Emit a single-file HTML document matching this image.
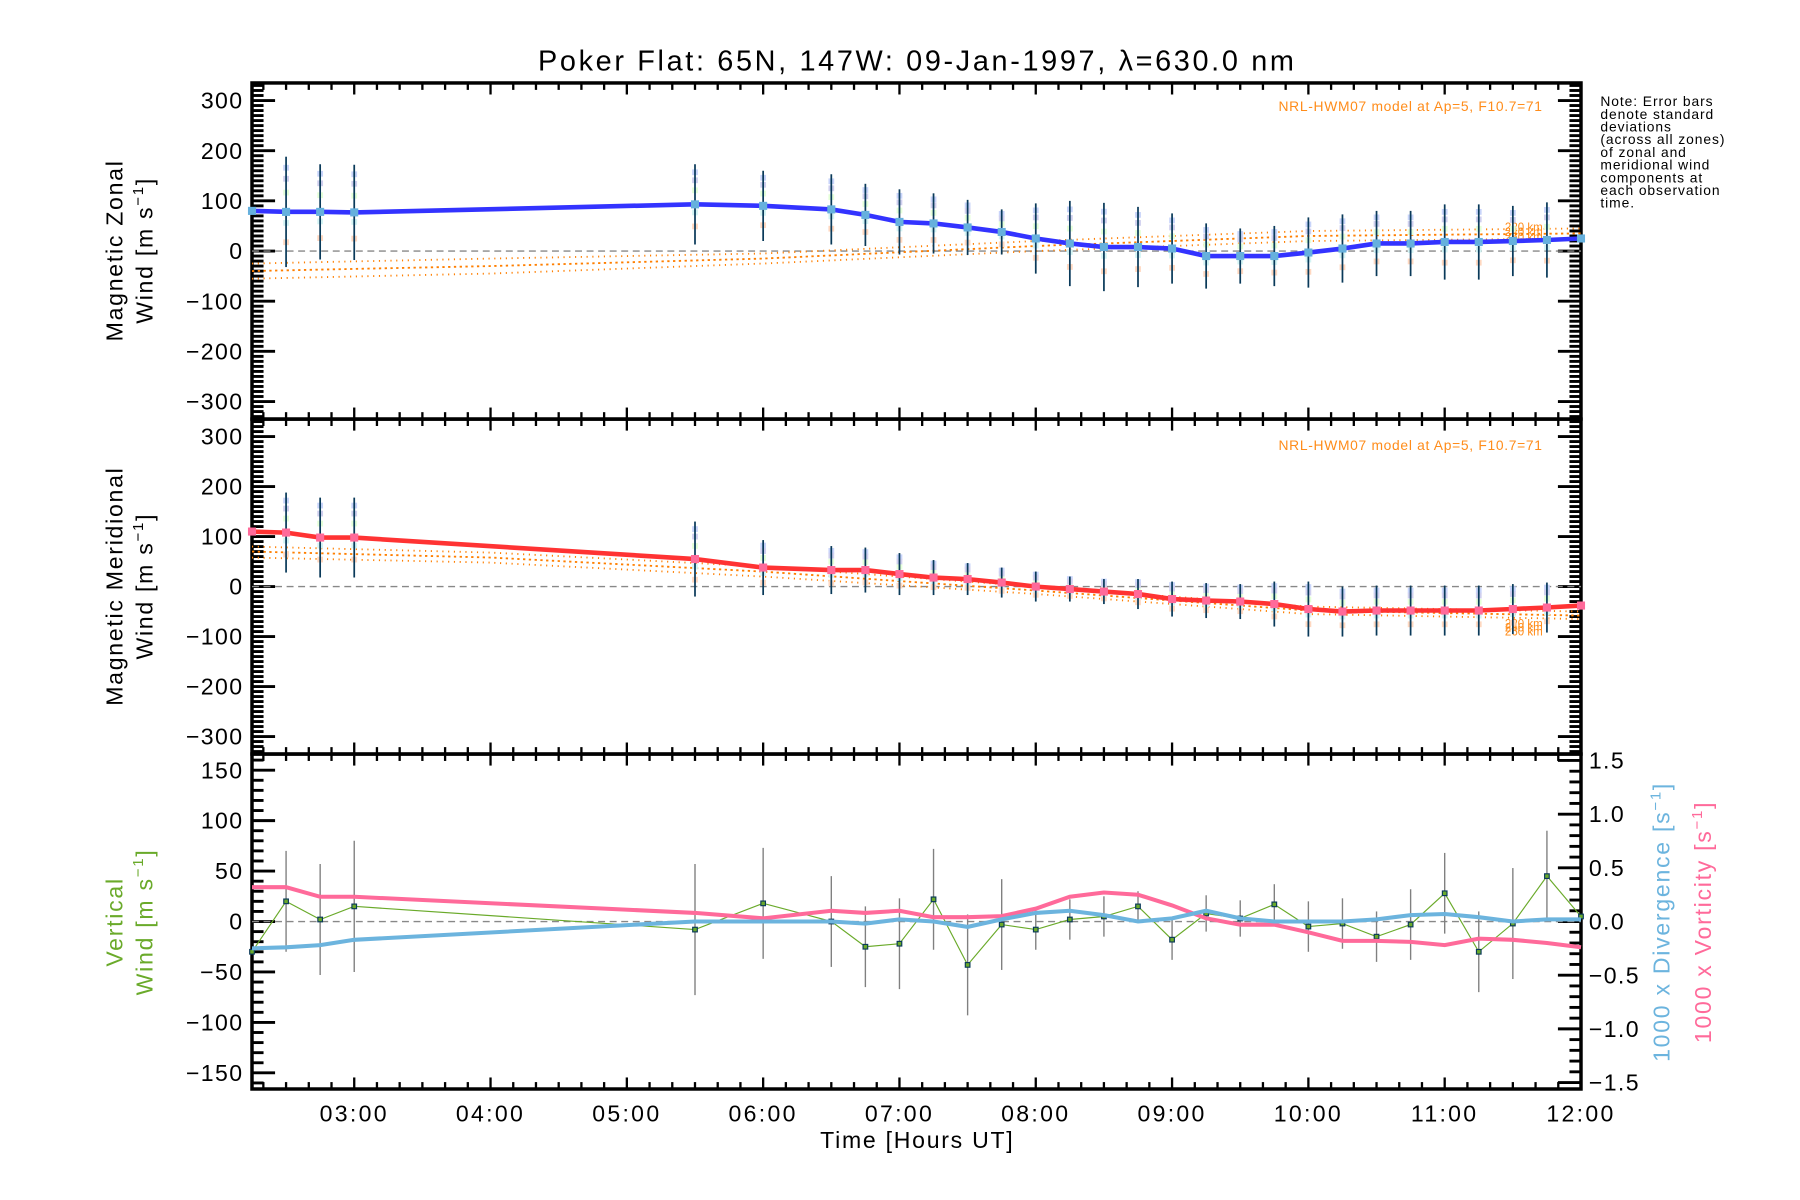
<!DOCTYPE html>
<html><head><meta charset="utf-8"><style>
html,body{margin:0;padding:0;background:#fff}
svg{display:block}
text{font-family:"Liberation Sans","DejaVu Sans",sans-serif}
</style></head><body>
<svg id="chart" width="1800" height="1200" viewBox="0 0 1560 1040" xmlns="http://www.w3.org/2000/svg">
<text x="795" y="61" text-anchor="middle" font-size="25" letter-spacing="2.3">Poker Flat: 65N, 147W: 09-Jan-1997, λ=630.0 nm</text>
<g id="g"></g>
<text font-size="12" letter-spacing="0.8" x="1387" y="92"><tspan x="1387" dy="0">Note: Error bars</tspan><tspan x="1387" dy="11">denote standard</tspan><tspan x="1387" dy="11">deviations</tspan><tspan x="1387" dy="11">(across all zones)</tspan><tspan x="1387" dy="11">of zonal and</tspan><tspan x="1387" dy="11">meridional wind</tspan><tspan x="1387" dy="11">components at</tspan><tspan x="1387" dy="11">each observation</tspan><tspan x="1387" dy="11">time.</tspan></text>
</svg>
<script>
// ---- data ----
const obsTimes=[2.25,2.5,2.75,3.0,5.5,6.0,6.5,6.75,7.0,7.25,7.5,7.75,8.0,8.25,8.5,8.75,9.0,9.25,9.5,9.75,10.0,10.25,10.5,10.75,11.0,11.25,11.5,11.75,12.0];
const zonal=[80,78,78,77,93,90,83,72,58,55,47,38,25,15,8,8,5,-10,-10,-10,-3,5,15,15,18,18,20,22,25];
const zonalErr=[0,110,95,95,80,70,70,62,65,60,55,45,70,85,88,80,70,65,55,60,70,68,65,65,75,75,70,75,0];
const merid=[110,108,98,98,55,38,33,33,25,18,15,8,0,-5,-10,-15,-25,-28,-30,-35,-45,-50,-48,-48,-48,-48,-45,-42,-38];
const meridErr=[0,80,80,80,75,55,48,45,42,35,32,30,30,25,25,30,35,35,35,45,55,50,50,50,50,50,50,50,0];
const modelTimes=[2.25,4,6,8,10,12];
const modelZ220=[-25,-15,-5,20,40,45];
const modelZ240=[-40,-30,-15,10,30,35];
const modelZ260=[-55,-45,-25,0,20,25];
const modelM220=[80,68,40,0,-40,-50];
const modelM240=[70,58,30,-8,-48,-58];
const modelM260=[58,48,20,-15,-55,-65];
const vert=[-30,20,2,15,-8,18,0,-25,-22,22,-43,-3,-8,2,5,15,-18,8,3,17,-5,-2,-15,-3,28,-30,-2,45,5];
const vertErr=[0,50,55,65,65,55,45,40,45,50,50,45,20,20,20,15,20,18,18,20,25,25,25,35,40,40,55,45,0];
const diverg=[-0.25,-0.24,-0.22,-0.17,0.0,0.0,0.0,-0.02,0.02,0.0,-0.05,0.02,0.08,0.1,0.06,0.0,0.03,0.1,0.03,0.0,0.0,0.0,0.02,0.06,0.07,0.04,0.0,0.02,0.02];
const vortic=[0.32,0.32,0.23,0.23,0.08,0.03,0.1,0.08,0.1,0.04,0.04,0.05,0.12,0.23,0.27,0.25,0.15,0.03,-0.03,-0.03,-0.1,-0.18,-0.18,-0.19,-0.22,-0.16,-0.17,-0.2,-0.24];
const windTicks=[300,200,100,0,-100,-200,-300];
const vertTicks=[150,100,50,0,-50,-100,-150];
const rightTicks=[1.5,1.0,0.5,0.0,-0.5,-1.0,-1.5];
const hourTicks=[3,4,5,6,7,8,9,10,11,12];

// ---- layout ----
const NS="http://www.w3.org/2000/svg";
const g=document.getElementById('g');
const X0=218.4,X1=1370.2,T0=2.25,T1=12;
const P=[{top:71.9,bot:363.2},{top:363.2,bot:653.5},{top:653.5,bot:943.8}];
const sx=t=>X0+(t-T0)/(T1-T0)*(X1-X0);
const mkY=(p,lo,hi)=>v=>p.bot-(v-lo)/(hi-lo)*(p.bot-p.top);
const y1=mkY(P[0],-335,335), y2=mkY(P[1],-335,335), y3=mkY(P[2],-166,166), y3r=mkY(P[2],-1.56,1.56);
function el(tag,attrs,parent){const e=document.createElementNS(NS,tag);for(const k in attrs)e.setAttribute(k,attrs[k]);(parent||g).appendChild(e);return e;}
function line(x1,y1_,x2,y2_,st,w,extra){return el('line',Object.assign({x1:x1,y1:y1_,x2:x2,y2:y2_,stroke:st,'stroke-width':w},extra||{}));}
function poly(ts,vs,fy,st,w,extra){const pts=ts.map((t,i)=>sx(t).toFixed(1)+','+fy(vs[i]).toFixed(1)).join(' ');return el('polyline',Object.assign({points:pts,fill:'none',stroke:st,'stroke-width':w},extra||{}));}
function txt(x,y,s,size,anchor,fill,extra){const e=el('text',Object.assign({x:x,y:y,'font-size':size,'text-anchor':anchor||'start',fill:fill||'#000'},extra||{}));e.textContent=s;return e;}

// frames & ticks
P.forEach((p,pi)=>{
  const fy=pi===0?y1:pi===1?y2:y3;
  const step=10, major=pi<2?100:50, lo=pi<2?-330:-160, hi=pi<2?330:160;
  for(let v=lo;v<=hi;v+=step){const yy=fy(v);if(yy<p.top+1||yy>p.bot-1)continue;const L=(v%major===0)?20:10;
    line(X0,yy,X0+L,yy,'#000',2.5);
    if(pi<2) line(X1,yy,X1-L,yy,'#000',2.5);}
  if(pi===2){for(let v=-15;v<=15;v++){const yy=y3r(v/10);const L=(v%5===0)?20:10;line(X1,yy,X1-L,yy,'#000',2.5);}}
  for(let m=0;m<=60;m++){const tt=2.3333+m/6; if(tt<T0||tt>T1+0.001)continue;const xx=sx(tt);const maj=Math.abs(tt-Math.round(tt))<0.01;const L=maj?10:6;
    line(xx,p.top,xx,p.top+L,'#000',2);line(xx,p.bot,xx,p.bot-L,'#000',2);}
  el('rect',{x:X0,y:p.top,width:X1-X0,height:p.bot-p.top,fill:'none',stroke:'#000','stroke-width':3});
  line(X0,fy(0),X1,fy(0),'#888',1.2,{'stroke-dasharray':'6,4'});
});
// tick labels
const LS={'letter-spacing':1.2};
windTicks.forEach(v=>{[y1,y2].forEach(fy=>{const t=txt(211,fy(v)+7,String(v).replace('-','−'),20,'end','#000',LS);});});
vertTicks.forEach(v=>{const t=txt(211,y3(v)+7,String(v).replace('-','−'),20,'end','#000',LS);});
rightTicks.forEach(v=>{const t=txt(1377,y3r(v)+7,(v<0?'−':'')+Math.abs(v).toFixed(1),20,'start','#000',LS);});
hourTicks.forEach(h=>{const t=txt(sx(h),972,(h<10?'0':'')+h+':00',20,'middle','#000',{'letter-spacing':2});});
{const t=txt(795,995,'Time [Hours UT]',20,'middle','#000',{'letter-spacing':1.5});}

// axis titles (rotated)
function rot(x,y,lines,fill,name){const e=el('text',{transform:`translate(${x},${y}) rotate(-90)`,'font-size':20,'text-anchor':'middle',fill:fill,'letter-spacing':1.5});
  
  lines.forEach((s,i)=>{const ts=el('tspan',{x:0,dy:i?26:0},e);ts.innerHTML=s;});return e;}
rot(106,217,['Magnetic Zonal','Wind [m s<tspan dy="-8" font-size="13">−1</tspan><tspan dy="8">]</tspan>'],'#000','zonal-y-title');
rot(106,508,['Magnetic Meridional','Wind [m s<tspan dy="-8" font-size="13">−1</tspan><tspan dy="8">]</tspan>'],'#000','meridional-y-title');
rot(106,799,['Vertical','Wind [m s<tspan dy="-8" font-size="13">−1</tspan><tspan dy="8">]</tspan>'],'#6aaa2a','vertical-y-title');
rot(1447,799,['1000 x Divergence [s<tspan dy="-8" font-size="13">−1</tspan><tspan dy="8">]</tspan>'],'#6cb4de','divergence-y-title');
rot(1483,799,['1000 x Vorticity [s<tspan dy="-8" font-size="13">−1</tspan><tspan dy="8">]</tspan>'],'#ff6a9a','vorticity-y-title');

// model labels
[96,390].forEach(yy=>{const t=txt(1337,yy,'NRL-HWM07 model at Ap=5, F10.7=71',12,'end','#ff8c1a',{'letter-spacing':0.6});});
[['220 km',45,-50],['240 km',35,-58],['260 km',25,-66]].forEach(([s,z,m])=>{
  let t=txt(1337,y1(z)+2,s,10,'end','#ff8c1a');
  t=txt(1337,y2(m)+14,s,10,'end','#ff8c1a');});

// model lines
[[modelZ220,'1,4'],[modelZ240,'2,3'],[modelZ260,'1,4']].forEach(([a,d])=>{const e=poly(modelTimes,a,y1,'#ff7f00',1.6,{'stroke-dasharray':d});});
[[modelM220,'1,4'],[modelM240,'2,3'],[modelM260,'1,4']].forEach(([a,d])=>{const e=poly(modelTimes,a,y2,'#ff7f00',1.6,{'stroke-dasharray':d});});

// error bars + zone scatter
const zoneCols=['#c8d4fa','#ffd8c0','#e4ffd8','#d4f4f4','#cfcfee'];
const zoneOff=[0.8,-0.55,0.35,-0.2,0.6];
obsTimes.forEach((t,i)=>{
  const x=sx(t);
  if(zonalErr[i]>0){
    zoneCols.forEach((c,k)=>{const r=el('rect',{x:x-2.5,y:y1(zonal[i]+zoneOff[k]*zonalErr[i])-2.5,width:5,height:5,fill:c});});
    const e=line(x,y1(zonal[i]+zonalErr[i]),x,y1(zonal[i]-zonalErr[i]),'#0a3a5a',1.5);
  }
  if(meridErr[i]>0){
    zoneCols.forEach((c,k)=>{const r=el('rect',{x:x-2.5,y:y2(merid[i]+zoneOff[k]*meridErr[i])-2.5,width:5,height:5,fill:c});});
    const e=line(x,y2(merid[i]+meridErr[i]),x,y2(merid[i]-meridErr[i]),'#0a3a5a',1.5);
  }
  if(vertErr[i]>0){const e=line(x,y3(vert[i]+vertErr[i]),x,y3(vert[i]-vertErr[i]),'#808080',1.2);}
});
// main series
{const e=poly(obsTimes,zonal,y1,'#3333ff',4);}
{const e=poly(obsTimes,merid,y2,'#ff3333',4);}
obsTimes.forEach((t,i)=>{
  let r=el('rect',{x:sx(t)-3.5,y:y1(zonal[i])-3.5,width:7,height:7,fill:'#66b0dd'});
  r=el('rect',{x:sx(t)-3.5,y:y2(merid[i])-3.5,width:7,height:7,fill:'#ff6a9a'});
});
{const e=poly(obsTimes,vert,y3,'#6aaa2a',1);}
obsTimes.forEach((t,i)=>{const r=el('rect',{x:sx(t)-2,y:y3(vert[i])-2,width:4,height:4,fill:'#6aaa2a',stroke:'#0a3a5a','stroke-width':1});});
{const e=poly(obsTimes,vortic,y3r,'#ff6a9a',3.5);}
{const e=poly(obsTimes,diverg,y3r,'#6cb4de',3.5);}
</script>
</body></html>
